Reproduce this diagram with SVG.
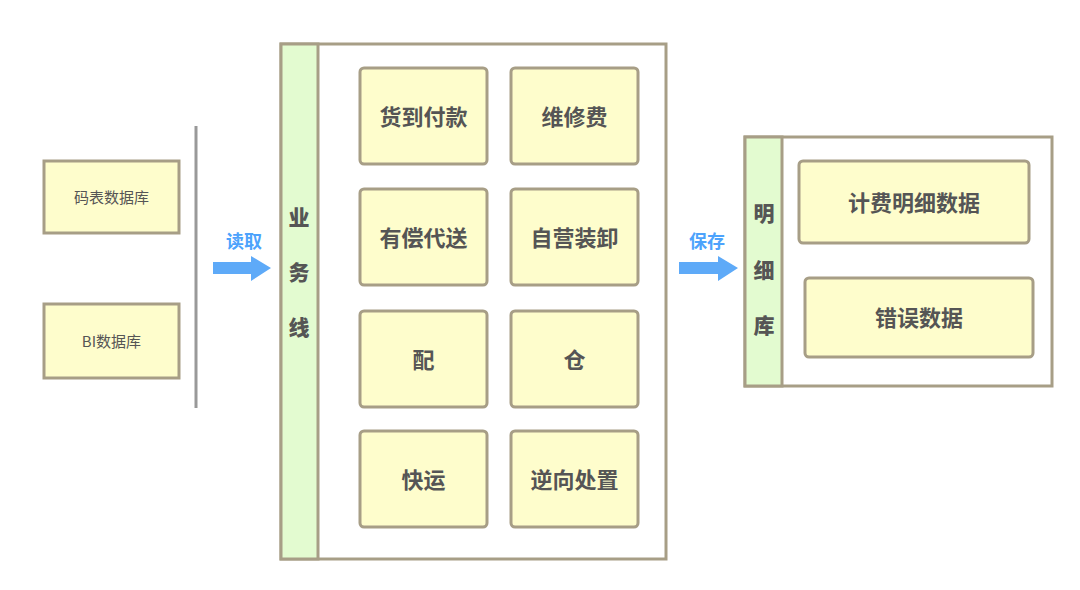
<svg xmlns="http://www.w3.org/2000/svg" width="1080" height="590" viewBox="0 0 1080 590">
<defs>
<style>
.box{fill:#fefdcc;stroke:#a79e86;stroke-width:3}
.cont{fill:#ffffff;stroke:#a79e86;stroke-width:3}
.strip{fill:#e3fbd0;stroke:#a79e86;stroke-width:3}
.t{font-family:"Noto Sans CJK SC","Noto Sans",sans-serif;fill:#555555;text-anchor:middle;dominant-baseline:central}
.big{font-size:22px;font-weight:bold}
.st{font-size:21px;font-weight:900}
.sm{font-size:15px}
.lab{font-family:"Noto Sans CJK SC","Noto Sans",sans-serif;font-size:18px;font-weight:bold;fill:#4da3fc;text-anchor:middle;dominant-baseline:central}
.arr{fill:#5eaaf8}
</style>
</defs>
<rect width="1080" height="590" fill="#ffffff"/>
<g id="src-code">
<rect class="box" x="44" y="161" width="135" height="72"/>
<text class="t sm" x="111.5" y="196">码表数据库</text>
</g>
<g id="src-bi">
<rect class="box" x="44" y="304" width="135" height="74"/>
<text class="t sm" x="111.5" y="340">BI数据库</text>
</g>
<g id="business">
<rect class="cont" x="281" y="44" width="385" height="515"/>
<rect class="strip" x="281" y="44" width="37" height="515"/>
<text class="t st" x="299" y="216">业</text>
<text class="t st" x="299" y="271">务</text>
<text class="t st" x="299" y="326">线</text>
</g>
<g id="n-hdfk"><rect class="box" x="360" y="68" width="127" height="96" rx="4"/><text class="t big" x="423.5" y="115">货到付款</text></g>
<g id="n-wxf"><rect class="box" x="511" y="68" width="127" height="96" rx="4"/><text class="t big" x="574.5" y="115">维修费</text></g>
<g id="n-ycds"><rect class="box" x="360" y="189" width="127" height="96" rx="4"/><text class="t big" x="423.5" y="236">有偿代送</text></g>
<g id="n-zyzx"><rect class="box" x="511" y="189" width="127" height="96" rx="4"/><text class="t big" x="574.5" y="236">自营装卸</text></g>
<g id="n-pei"><rect class="box" x="360" y="311" width="127" height="96" rx="4"/><text class="t big" x="423.5" y="358">配</text></g>
<g id="n-cang"><rect class="box" x="511" y="311" width="127" height="96" rx="4"/><text class="t big" x="574.5" y="358">仓</text></g>
<g id="n-ky"><rect class="box" x="360" y="431" width="127" height="96" rx="4"/><text class="t big" x="423.5" y="478">快运</text></g>
<g id="n-nxcz"><rect class="box" x="511" y="431" width="127" height="96" rx="4"/><text class="t big" x="574.5" y="478">逆向处置</text></g>
<g id="detail">
<rect class="cont" x="745" y="137" width="307" height="249"/>
<rect class="strip" x="745" y="137" width="37" height="249"/>
<text class="t st" x="764" y="212">明</text>
<text class="t st" x="764" y="269">细</text>
<text class="t st" x="764" y="324">库</text>
</g>
<g id="n-jfmx"><rect class="box" x="799" y="161" width="230" height="82" rx="4"/><text class="t big" x="914" y="201">计费明细数据</text></g>
<g id="n-cwsj"><rect class="box" x="805" y="278" width="228" height="79" rx="4"/><text class="t big" x="919" y="316">错误数据</text></g>
<g id="connectors">
<line x1="196" y1="126" x2="196" y2="408" stroke="#999999" stroke-width="3"/>
<path class="arr" d="M213,262 H251 V256 L271,268 L251,281 V274 H213 Z"/>
<text class="lab" x="244" y="240">读取</text>
<path class="arr" d="M679,262 H718 V256 L738,268 L718,281 V274 H679 Z"/>
<text class="lab" x="707" y="240">保存</text>
</g>
</svg>
